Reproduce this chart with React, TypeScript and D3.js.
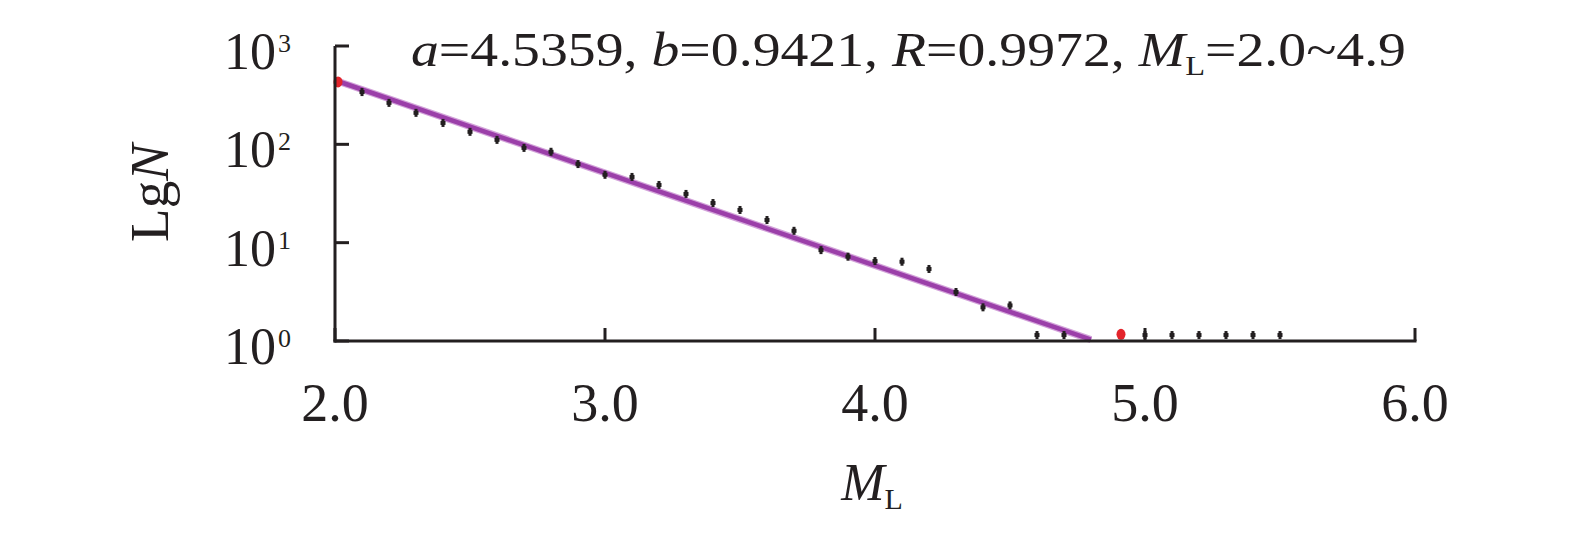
import React from "react";
import * as d3 from "d3";

const W = 1575;
const H = 539;

// Gutenberg-Richter fit parameters
const paramA = 4.5359;
const paramB = 0.9421;
const fitRange = [2.0, 4.8];

// black observed points: magnitude and cumulative count
const magnitudes = [2.1, 2.2, 2.3, 2.4, 2.5, 2.6, 2.7, 2.8, 2.9, 3.0, 3.1, 3.2, 3.3, 3.4, 3.5, 3.6, 3.7, 3.8, 3.9, 4.0, 4.1, 4.2, 4.3, 4.4, 4.5, 4.6, 4.7, 5.0, 5.1, 5.2, 5.3, 5.4, 5.5];
const counts = [340, 264, 209, 165, 134, 111, 92, 84, 63, 49, 46.6, 38.6, 31.3, 25.3, 21.5, 17, 13.2, 8.4, 7.2, 6.5, 6.4, 5.4, 3.15, 2.2, 2.3, 1.15, 1.15, 1.15, 1.15, 1.15, 1.15, 1.15, 1.15];

// red end points of the fit range
const redMags = [2.0, 4.9];
const redCounts = [431, 1.17];

const xTicks = [2.0, 3.0, 4.0, 5.0, 6.0];
const yTickExps = [0, 1, 2, 3];

const FONT = '"Liberation Serif", Tinos, "Times New Roman", Times, serif';
const INK = "#231f20";

export default function App() {
  const x = d3.scaleLinear().domain([2, 6]).range([335, 1415]);
  const y = d3.scaleLog().domain([1, 1000]).range([341, 46]);

  const fitLine = d3
    .line<number>()
    .x((m) => x(m))
    .y((m) => y(Math.pow(10, paramA - paramB * m)));

  const txt = { fontFamily: FONT };

  return (
    <svg
      width={W}
      height={H}
      style={{ position: "absolute", left: 0, top: 0, background: "#fff", fontFamily: FONT }}
    >
      {/* fit line */}
      <path d={fitLine(fitRange) || ""} stroke="#d3a3da" strokeWidth={7} fill="none" />
      <path d={fitLine(fitRange) || ""} stroke="#9b3fa9" strokeWidth={4.5} fill="none" />
      {/* red points */}
      {redMags.map((m, i) => (
        <ellipse key={"r" + i} cx={x(m) + 3} cy={y(redCounts[i])} rx={4.5} ry={5.5} fill="#e3242b" />
      ))}
      {/* black points */}
      {magnitudes.map((m, i) => {
        const cx = x(m);
        const cy = y(counts[i]);
        return (
          <g key={"p" + i} fill={INK}>
            <rect x={cx - 1.5} y={cy - 4} width={3} height={8} />
            <rect x={cx - 2.5} y={cy - 2} width={5} height={4} />
          </g>
        );
      })}
      {/* axes */}
      <line x1={x(2)} x2={x(2)} y1={y(1000)} y2={y(1) + 1.5} stroke={INK} strokeWidth={3} />
      <line x1={x(2) - 1.5} x2={x(6) + 1.5} y1={y(1)} y2={y(1)} stroke={INK} strokeWidth={3} />
      {yTickExps.map((e) => (
        <line key={"yt" + e} x1={x(2)} x2={x(2) + 14} y1={y(Math.pow(10, e))} y2={y(Math.pow(10, e))} stroke={INK} strokeWidth={3} />
      ))}
      {xTicks.map((t) => (
        <line key={"xt" + t} x1={x(t)} x2={x(t)} y1={y(1)} y2={y(1) - 13} stroke={INK} strokeWidth={3} />
      ))}
      {/* y tick labels */}
      {yTickExps.map((e) => (
        <text key={"yl" + e} style={txt} x={276} y={y(Math.pow(10, e)) + 23} fontSize={52} textAnchor="end" fill={INK}>
          10
        </text>
      ))}
      {yTickExps.map((e) => (
        <text key={"ys" + e} style={txt} x={278} y={y(Math.pow(10, e)) + 6} fontSize={26} textAnchor="start" fill={INK}>
          {e}
        </text>
      ))}
      {/* x tick labels */}
      {xTicks.map((t) => (
        <text key={"xl" + t} style={txt} x={x(t)} y={421} fontSize={54} textAnchor="middle" fill={INK}>
          {t.toFixed(1)}
        </text>
      ))}
      {/* axis titles */}
      <text style={txt} transform={`translate(168,193) rotate(-90)`} fontSize={55} textAnchor="middle" fill={INK}>
        Lg<tspan fontStyle="italic">N</tspan>
      </text>
      <text style={txt} x={872} y={500} fontSize={52} textAnchor="middle" fill={INK}>
        <tspan fontStyle="italic">M</tspan>
        <tspan fontSize={30} dy={9}>L</tspan>
      </text>
      {/* annotation */}
      <text style={txt} x={411} y={66} fontSize={48} fill={INK} textLength={995} lengthAdjust="spacingAndGlyphs">
        <tspan fontStyle="italic">a</tspan>=4.5359, <tspan fontStyle="italic">b</tspan>=0.9421,{" "}
        <tspan fontStyle="italic">R</tspan>=0.9972, <tspan fontStyle="italic">M</tspan>
        <tspan fontSize={28} dy={9}>L</tspan>
        <tspan dy={-9}>=2.0~4.9</tspan>
      </text>
    </svg>
  );
}
